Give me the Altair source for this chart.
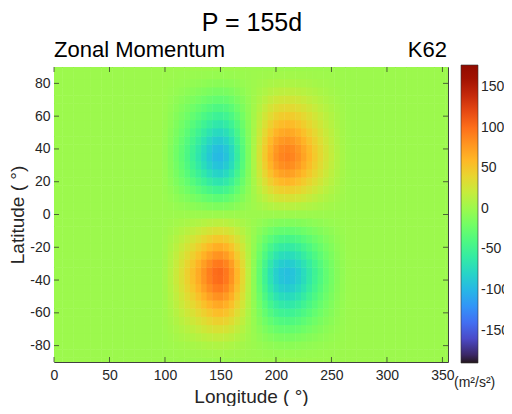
import altair as alt
import pandas as pd

# ---- data ----
lon_vals = list(range(0, 360, 5))          # 0 .. 355
lat_vals = list(range(-90, 95, 5))         # -90 .. 90
# zonal structure (normalised), read along the blob centres
lon_profile = [0.0] * 20 + [
    -0.04, -0.12, -0.21, -0.31, -0.42, -0.53, -0.65, -0.77, -0.88, -0.97,
    -0.99, -0.92, -0.78, -0.58, -0.37, -0.15, 0.07, 0.28, 0.48, 0.66,
    0.80, 0.88, 0.91, 0.88, 0.81, 0.71, 0.60, 0.49, 0.38, 0.28,
    0.19, 0.11, 0.05, 0.01] + [0.0] * 18
# meridional structure (normalised)
lat_profile = [
    0.0, -0.03, -0.09, -0.19, -0.31, -0.44, -0.57, -0.70, -0.83, -0.95,
    -1.03, -1.04, -0.96, -0.82, -0.67, -0.50, -0.32, -0.15, 0.0,
    0.15, 0.32, 0.50, 0.67, 0.82, 0.94, 1.00, 0.97, 0.88, 0.77,
    0.65, 0.53, 0.41, 0.29, 0.18, 0.09, 0.03, 0.0]
amplitude = 100.0
lon_ticks = [0, 50, 100, 150, 200, 250, 300, 350]
lat_ticks = [-80, -60, -40, -20, 0, 20, 40, 60, 80]
cbar_ticks = [-150, -100, -50, 0, 50, 100, 150]
cbar_domain = [-190, 177]

rows = []
for i, lo in enumerate(lon_vals):
    for j, la in enumerate(lat_vals):
        rows.append({"lon0": lo - 2.5, "lon1": lo + 2.9,
                     "lat0": la - 2.5, "lat1": la + 2.8,
                     "v": amplitude * lon_profile[i] * lat_profile[j]})
df = pd.DataFrame(rows)

W, H = 394, 295
FONT = "Liberation Sans"
TXT = "#262626"
PLAIN = "'' + datum.value"

xs = alt.Scale(domain=[0, 355], nice=False, zero=False)
ys = alt.Scale(domain=[-90, 90], nice=False, zero=False)
cs = alt.Scale(domain=cbar_domain, scheme="turbo")

x_axis = alt.Axis(values=lon_ticks, title="Longitude ( °)", ticks=False,
                  domain=False, grid=False, labelPadding=6,
                  labelFlush=False, labelOverlap=False,
                  titlePadding=5, labelExpr=PLAIN)
y_axis = alt.Axis(values=lat_ticks, title="Latitude ( °)", ticks=False,
                  domain=False, grid=False, labelPadding=4,
                  labelFlush=False, labelOverlap=False,
                  titlePadding=2, labelExpr=PLAIN)

heat = alt.Chart(df).mark_rect(clip=True).encode(
    x=alt.X("lon0:Q", scale=xs, axis=x_axis),
    x2="lon1:Q",
    y=alt.Y("lat0:Q", scale=ys, axis=y_axis),
    y2="lat1:Q",
    color=alt.Color("v:Q", scale=cs,
                    legend=alt.Legend(type="gradient", values=cbar_ticks, title=None,
                                      orient="none", direction="vertical",
                                      legendX=407, legendY=-2,
                                      gradientLength=298, gradientThickness=17,
                                      gradientStrokeColor="#333333",
                                      gradientStrokeWidth=0.6,
                                      labelFontSize=14, labelFont=FONT,
                                      labelColor=TXT, labelOffset=3,
                                      labelOverlap=False, labelExpr=PLAIN)),
)

lon_df = pd.DataFrame({"t": lon_ticks})
lat_df = pd.DataFrame({"t": lat_ticks})
tick_color = "#262626"
bt = alt.Chart(lon_df).mark_rule(color=tick_color, strokeWidth=0.7).encode(
    x=alt.X("t:Q", scale=xs, axis=x_axis), y=alt.value(H), y2=alt.value(H - 5))
tt = alt.Chart(lon_df).mark_rule(color=tick_color, strokeWidth=0.7).encode(
    x=alt.X("t:Q", scale=xs, axis=x_axis), y=alt.value(0), y2=alt.value(5))
lt = alt.Chart(lat_df).mark_rule(color=tick_color, strokeWidth=0.7).encode(
    y=alt.Y("t:Q", scale=ys, axis=y_axis), x=alt.value(0), x2=alt.value(5))
rt = alt.Chart(lat_df).mark_rule(color=tick_color, strokeWidth=0.7).encode(
    y=alt.Y("t:Q", scale=ys, axis=y_axis), x=alt.value(W), x2=alt.value(W - 5))

lab = pd.DataFrame({"s": ["x"]})
title = alt.Chart(lab).mark_text(text="P = 155d", font=FONT, fontSize=25, color="#000000",
                                 align="center", baseline="alphabetic").encode(
    x=alt.value(198), y=alt.value(-36))
sub_l = alt.Chart(lab).mark_text(text="Zonal Momentum", font=FONT, fontSize=22, color="#000000",
                                 align="left", baseline="alphabetic").encode(
    x=alt.value(0), y=alt.value(-10))
sub_r = alt.Chart(lab).mark_text(text="K62", font=FONT, fontSize=22, color="#000000",
                                 align="right", baseline="alphabetic").encode(
    x=alt.value(393), y=alt.value(-10))
unit = alt.Chart(lab).mark_text(text="(m²/s²)", font=FONT, fontSize=14, color=TXT,
                                align="left", baseline="middle").encode(
    x=alt.value(400), y=alt.value(H + 21))

chart = alt.layer(heat, bt, tt, lt, rt, title, sub_l, sub_r, unit).properties(
    width=W, height=H,
    autosize=alt.AutoSizeParams(type="none"),
    padding={"left": 46, "top": 59, "right": 56, "bottom": 44},
).configure_view(stroke="#404040", strokeWidth=1).configure_axis(
    labelFont=FONT, labelFontSize=14, labelColor=TXT,
    titleFont=FONT, titleFontSize=19, titleColor=TXT, titleFontWeight="normal",
)

chart.save("out.html", embed_options={"renderer": "svg", "actions": False})
